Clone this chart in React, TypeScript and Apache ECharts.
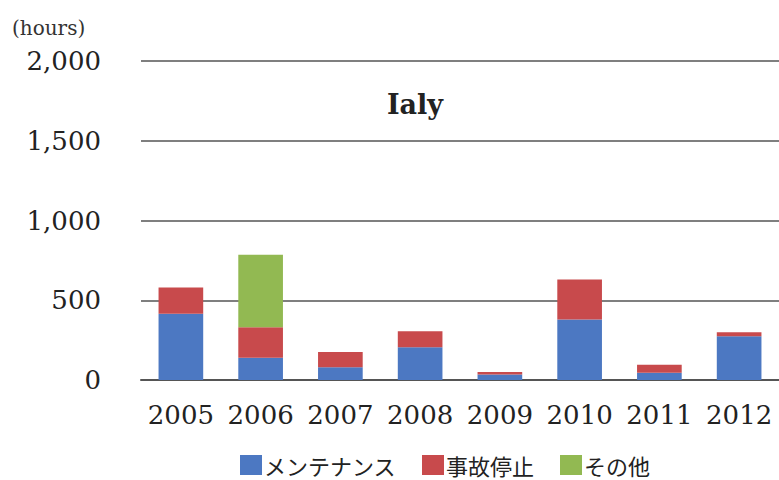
import React, { useEffect, useRef } from "react";
import * as echarts from "echarts";

const categories = ["2005", "2006", "2007", "2008", "2009", "2010", "2011", "2012"];
const maintenance = [415, 140, 80, 205, 35, 380, 45, 275];
const accident = [165, 190, 95, 100, 15, 250, 50, 25];
const other = [0, 455, 0, 0, 0, 0, 0, 0];
const seriesNames = ["メンテナンス", "事故停止", "その他"];
const yTicks = { min: 0, max: 2000, interval: 500 };

const serif = "'DejaVu Serif', 'Liberation Serif', serif";
const jp = "'Noto Sans CJK JP', sans-serif";

export default function App() {
  const ref = useRef<HTMLDivElement>(null);
  useEffect(() => {
    const chart = echarts.init(ref.current!, null, { renderer: "svg" });
    const colors = ["#4c78c2", "#c84a4c", "#92b952"];
    chart.setOption({
      animation: false,
      backgroundColor: "#ffffff",
      color: colors,
      title: {
        text: "Ialy",
        left: 410,
        top: 86,
        textAlign: "center",
        textStyle: { fontFamily: serif, fontSize: 27, fontWeight: "bold", color: "#222" },
      },
      graphic: [
        {
          type: "text",
          left: 12,
          top: 18,
          style: { text: "(hours)", fontFamily: serif, fontSize: 20, fill: "#333" },
        },
      ],
      legend: {
        top: 454,
        left: 240,
        padding: 0,
        itemWidth: 22,
        itemHeight: 20,
        itemGap: 26,
        icon: "rect",
        data: seriesNames,
        textStyle: {
          fontFamily: jp,
          fontSize: 22,
          lineHeight: 22,
          color: "#222",
          padding: [0, 0, 0, -3],
        },
      },
      grid: { left: 141, top: 61, width: 639, height: 319 },
      xAxis: {
        type: "category",
        data: categories,
        axisLine: { show: true, lineStyle: { color: "#555", width: 2 } },
        axisTick: { show: false },
        axisLabel: { fontFamily: serif, fontSize: 26, color: "#222", margin: 22, interval: 0 },
      },
      yAxis: {
        type: "value",
        min: yTicks.min,
        max: yTicks.max,
        interval: yTicks.interval,
        axisLine: { show: false },
        axisTick: { show: false },
        splitLine: { lineStyle: { color: "#555", width: 1.5 } },
        axisLabel: {
          fontFamily: serif,
          fontSize: 26,
          color: "#222",
          margin: 40,
          formatter: (v: number) => v.toLocaleString("en-US"),
        },
      },
      series: [
        { name: seriesNames[0], type: "bar", stack: "a", data: maintenance, barCategoryGap: "44%" },
        { name: seriesNames[1], type: "bar", stack: "a", data: accident },
        { name: seriesNames[2], type: "bar", stack: "a", data: other },
      ],
    });
    return () => chart.dispose();
  }, []);
  return <div ref={ref} style={{ width: 779, height: 480, position: "fixed", left: 0, top: 0 }} />;
}
